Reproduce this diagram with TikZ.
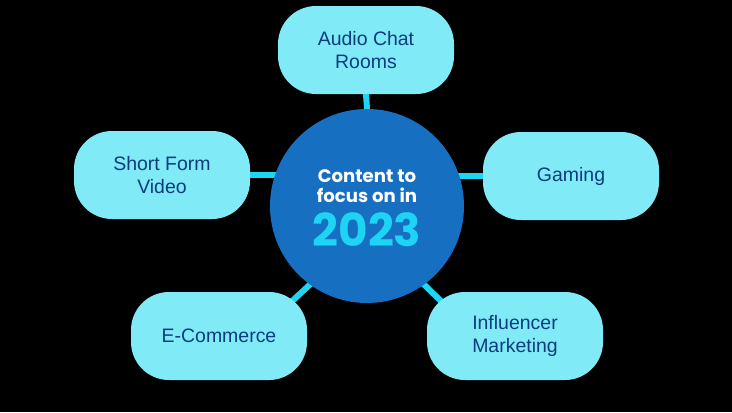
\documentclass[tikz,border=0pt]{standalone}
\usepackage{fontspec}
\setmainfont{Liberation Sans}
\newfontfamily\poppins{Poppins}[UprightFont=* Bold]
\usepackage{tikz}
\usetikzlibrary{calc,backgrounds}
\definecolor{boxcyan}{HTML}{80EAF7}
\definecolor{boxtext}{HTML}{0B3D7E}
\definecolor{hubblue}{HTML}{176FC1}
\definecolor{linkcyan}{HTML}{1CD6F2}
\definecolor{yearcyan}{HTML}{1ED4F5}
\tikzset{
    topic/.style={ % the light rounded boxes
        rectangle, rounded corners=28.5pt, fill=boxcyan,
        minimum width=132pt, minimum height=66pt,
        text=boxtext, align=center,
        font=\fontsize{14.6}{17}\selectfont
    },
    hubnode/.style={ % the big circle in the middle
        circle, fill=hubblue, minimum size=145.5pt, inner sep=0pt
    },
    hubline/.style={anchor=base, inner sep=0pt, text=white,
        font=\poppins\fontsize{13.6}{15}\selectfont},
    link/.style={line width=4.5pt, linkcyan, line cap=round}
}

\begin{document}
\begin{tikzpicture}[x=0.75pt,y=0.75pt]
        \useasboundingbox (0,0) rectangle (732,412);

        % Draw the centre circle and its title
        \node[hubnode] (hub) at (367,206) {};
        \node[hubline] (title) at (367,230) {Content to};
        \node[hubline] (subtitle) at (367,210) {focus on in};
        \node[hubline, text=yearcyan, font=\poppins\fontsize{34}{36}\selectfont] (year) at (367,166) {2023};

        % Draw the topics around it
        \node[topic] (audio) at (366,362) {Audio Chat\\Rooms};
        \node[topic] (short) at (162,237) {Short Form\\Video};
        \node[topic] (gaming) at (571,236) {Gaming};
        \node[topic] (ecom) at (219,76) {E-Commerce};
        \node[topic] (influ) at (515,76) {Influencer\\Marketing};

        % Draw the links behind the shapes
        \begin{pgfonlayer}{background}
            \fill[black] (0,0) rectangle (732,412);
            \draw[link] (audio.south) -- (hub.north);
            \draw[link] (short.east) -- (short.east -| hub.center);
            \draw[link] (gaming.west) -- (gaming.west -| hub.center);
            \draw[link, shorten <=-4pt] (hub.234) -- ($(ecom.center)+(71,33)$);
            \draw[link, shorten <=-4pt] (hub.306) -- ($(influ.center)+(-72,33)$);
        \end{pgfonlayer}
    \end{tikzpicture}
\end{document}
